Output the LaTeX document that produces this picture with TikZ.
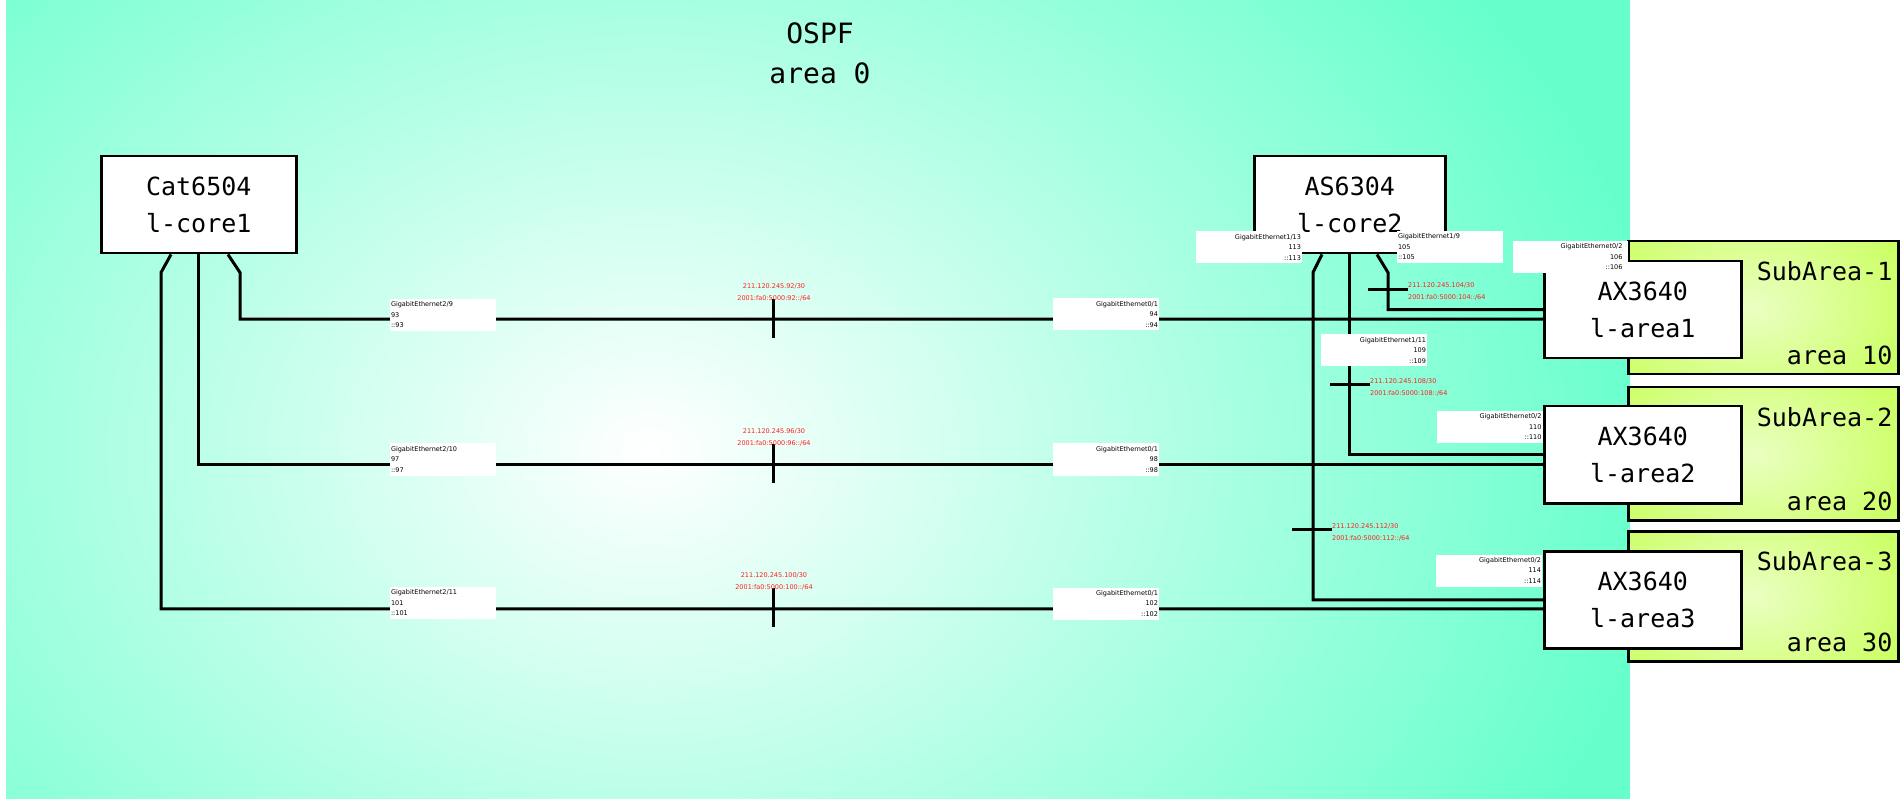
\documentclass[tikz,border=0pt]{standalone}
\usepackage{fontspec}
\setmainfont{DejaVu Sans}
\newfontfamily\monof{DejaVu Sans Mono}
\usetikzlibrary{calc}
\definecolor{aqua}{HTML}{66FFCC}
\definecolor{limeg}{HTML}{CCFF66}
\definecolor{netred}{HTML}{FF2020}
\begin{document}
\begin{tikzpicture}[x=1pt,y=-1pt,
  wire/.style={line width=3pt, line join=miter},
  dev/.style={draw, line width=2.5pt, fill=white, minimum width=195pt, minimum height=97pt,
    inner sep=0pt, align=center, anchor=north west, font=\monof\fontsize{25}{37}\selectfont},
  sabox/.style={draw, line width=2.5pt, fill=limeg, minimum width=270pt, minimum height=133pt,
    inner sep=0pt, anchor=north west,
    path picture={\shade[inner color=limeg!40!white, outer color=limeg]
      ([xshift=125pt]path picture bounding box.west) ellipse (160pt and 115pt);}},
  satext/.style={anchor=east, inner sep=0pt, font=\monof\fontsize{25}{30}\selectfont},
  iflbl/.style={fill=white, inner sep=0pt, minimum width=106pt, minimum height=32pt,
    text width=104pt, font=\fontsize{6.5}{10.5}\selectfont},
  netlbl/.style={text=netred, inner sep=0pt, font=\fontsize{6.5}{12}\selectfont},
  tick/.style={line width=3pt}
]
\useasboundingbox (0,0) rectangle (1904,799);
\fill[white] (0,0) rectangle (1904,799);
% area 0 background
\begin{scope}
  \clip (6,0) rectangle (1630,799);
  \fill[aqua] (6,0) rectangle (1630,799);
  \shade[inner color=white, outer color=aqua] (650,450) ellipse (1020 and 780);
\end{scope}
\node[font=\monof\fontsize{28}{40}\selectfont, align=center, inner sep=0pt] (title) at (820,53) {OSPF\\area 0};

% sub areas
\node[sabox] (sa1) at (1627,240) {};
\node[sabox] (sa2) at (1627,386) {};
\node[sabox, minimum height=130pt] (sa3) at (1627,530) {};
\node[satext] (sa1t) at ($(sa1.north east)+(-7,31)$) {SubArea-1};
\node[satext] (sa1a) at ($(sa1.south east)+(-7,-20)$) {area 10};
\node[satext] (sa2t) at ($(sa2.north east)+(-7,31)$) {SubArea-2};
\node[satext] (sa2a) at ($(sa2.south east)+(-7,-20)$) {area 20};
\node[satext] (sa3t) at ($(sa3.north east)+(-7,31)$) {SubArea-3};
\node[satext] (sa3a) at ($(sa3.south east)+(-7,-20)$) {area 30};

% devices
\node[dev] (c1) at (100,155) {Cat6504\\l-core1};
\node[dev, minimum width=191pt] (c2) at (1253,155) {AS6304\\l-core2};
\node[dev, minimum width=197pt] (a1) at (1543,260) {AX3640\\l-area1};
\node[dev, minimum width=197pt] (a2) at (1543,405) {AX3640\\l-area2};
\node[dev, minimum width=197pt] (a3) at (1543,550) {AX3640\\l-area3};

% connectors
\draw[wire] ($(c1.south west)+(128,0)$) -- ++(12,18) |- ($(a1.west)+(0,9.5)$);
\draw[wire] (c1.south) |- ($(a2.west)+(0,9.5)$);
\draw[wire] ($(c1.south west)+(71,0)$) -- ++(-10,18) |- ($(a3.west)+(0,9)$);
\draw[wire] ($(c2.south west)+(124,0)$) -- ++(11,18) |- (a1.west);
\draw[wire] (c2.south) |- (a2.west);
\draw[wire] ($(c2.south west)+(69,0)$) -- ++(-9,18) |- (a3.west);

% subnet ticks
\coordinate (t1) at (773,318);
\coordinate (t2) at (773,463);
\coordinate (t3) at (773,607);
\coordinate (t4) at (1388,290);
\coordinate (t5) at (1350,385);
\coordinate (t6) at (1312,529);
\foreach \t in {t1,t2,t3}{\draw[tick] ([yshift=19pt]\t) -- ([yshift=-20pt]\t);}
\foreach \t in {t4,t5,t6}{\draw[tick] ([xshift=-20pt]\t) -- ([xshift=20pt]\t);}

% interface labels
\node[iflbl, align=left] (p1) at (443,315) {GigabitEthernet2/9\\93\\::93};
\node[iflbl, align=left] (p2) at (443,459.5) {GigabitEthernet2/10\\97\\::97};
\node[iflbl, align=left] (p3) at (443,603) {GigabitEthernet2/11\\101\\::101};
\node[iflbl, align=right] (q1) at (1106,314.5) {GigabitEthernet0/1\\94\\::94};
\node[iflbl, align=right] (q2) at (1106,459.5) {GigabitEthernet0/1\\98\\::98};
\node[iflbl, align=right] (q3) at (1106,603.5) {GigabitEthernet0/1\\102\\::102};
\node[iflbl, align=right] (r1) at (1249,247.5) {GigabitEthernet1/13\\113\\::113};
\node[iflbl, align=left] (r2) at (1450,247) {GigabitEthernet1/9\\105\\::105};
\node[iflbl, align=right] (r3) at (1374,350.5) {GigabitEthernet1/11\\109\\::109};
\node[iflbl, align=right, minimum width=115pt] (s1) at (1570.5,257) {GigabitEthernet0/2\\106\\::106};
\node[iflbl, align=right] (s2) at (1489.5,427) {GigabitEthernet0/2\\110\\::110};
\node[iflbl, align=right] (s3) at (1489,570.5) {GigabitEthernet0/2\\114\\::114};

% subnet labels
\node[netlbl, align=center] (n1) at (774,292) {211.120.245.92/30\\2001:fa0:5000:92::/64};
\node[netlbl, align=center] (n2) at (774,437) {211.120.245.96/30\\2001:fa0:5000:96::/64};
\node[netlbl, align=center] (n3) at (774,581) {211.120.245.100/30\\2001:fa0:5000:100::/64};
\node[netlbl, align=left, anchor=west] (n4) at (1408,291) {211.120.245.104/30\\2001:fa0:5000:104::/64};
\node[netlbl, align=left, anchor=west] (n5) at (1370,387.5) {211.120.245.108/30\\2001:fa0:5000:108::/64};
\node[netlbl, align=left, anchor=west] (n6) at (1332,532.5) {211.120.245.112/30\\2001:fa0:5000:112::/64};
\end{tikzpicture}
\end{document}
